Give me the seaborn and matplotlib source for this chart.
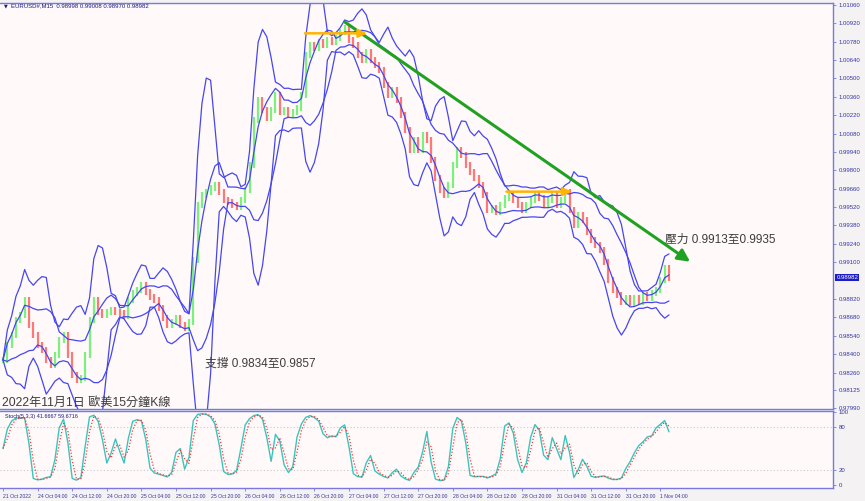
import numpy as np
import pandas as pd
import matplotlib.pyplot as plt
import seaborn as sns

# hourly closes (x unit = one 8-hour label slot)
closes = [
    0.98356, 0.98470, 0.98546, 0.98660, 0.98698, 0.98813, 0.98622, 0.98546,
    0.98470, 0.98432, 0.98356, 0.98317, 0.98394, 0.98508, 0.98546, 0.98394,
    0.98241, 0.98203, 0.98218, 0.98394, 0.98660, 0.98813, 0.98721, 0.98698,
    0.98721, 0.98736, 0.98721, 0.98715, 0.98691, 0.98813, 0.98866, 0.98889,
    0.98927, 0.98874, 0.98836, 0.98813, 0.98752, 0.98676, 0.98622, 0.98645,
    0.98676, 0.98622, 0.98599, 0.98645, 0.99117, 0.99536, 0.99613, 0.99635,
    0.99666, 0.99689, 0.99635, 0.99574, 0.99559, 0.99536, 0.99521, 0.99574,
    0.99651, 0.99841, 1.00184, 1.00336, 1.00260, 1.00199, 1.00260, 1.00374,
    1.00245, 1.00260, 1.00222, 1.00245, 1.00275, 1.00374, 1.00679, 1.00755,
    1.00732, 1.00778, 1.00755, 1.00793, 1.00778, 1.00809, 1.00854, 1.00885,
    1.00793, 1.00755, 1.00679, 1.00641, 1.00702, 1.00641, 1.00603, 1.00565,
    1.00451, 1.00374, 1.00412, 1.00336, 1.00222, 1.00108, 0.99955, 1.00032,
    0.99955, 1.00070, 1.00032, 0.99879, 0.99742, 0.99651, 0.99613, 0.99689,
    0.99841, 0.99955, 0.99917, 0.99841, 0.99788, 0.99742, 0.99689, 0.99613,
    0.99498, 0.99513, 0.99483, 0.99536, 0.99590, 0.99613, 0.99574, 0.99536,
    0.99498, 0.99536, 0.99574, 0.99613, 0.99590, 0.99536, 0.99574, 0.99613,
    0.99536, 0.99574, 0.99635, 0.99498, 0.99384, 0.99460, 0.99422, 0.99331,
    0.99270, 0.99232, 0.99194, 0.99102, 0.98965, 0.98889, 0.98851, 0.98797,
    0.98828, 0.98790, 0.98828, 0.98797, 0.98851, 0.98828, 0.98866, 0.98889,
    0.98965, 0.99056, 0.98982,
]

time_labels = [
    "21 Oct 2022", "24 Oct 04:00", "24 Oct 12:00", "24 Oct 20:00",
    "25 Oct 04:00", "25 Oct 12:00", "25 Oct 20:00", "26 Oct 04:00",
    "26 Oct 12:00", "26 Oct 20:00", "27 Oct 04:00", "27 Oct 12:00",
    "27 Oct 20:00", "28 Oct 04:00", "28 Oct 12:00", "28 Oct 20:00",
    "31 Oct 04:00", "31 Oct 12:00", "31 Oct 20:00", "1 Nov 04:00",
]
price_ticks = [1.01060, 1.00920, 1.00780, 1.00640, 1.00500, 1.00360, 1.00220,
               1.00080, 0.99940, 0.99800, 0.99660, 0.99520, 0.99380, 0.99240,
               0.99100, 0.98820, 0.98680, 0.98540, 0.98400, 0.98260, 0.98125,
               0.97990]
stoch_ticks = [0, 20, 80, 100]

last_price = 0.98982
trend_start = (9.88, 1.00930)
trend_end = (19.86, 0.99104)
top_level = (8.73, 10.52, 1.00844)
mid_level = (14.55, 16.43, 0.99638)

header = "EURUSD#,M15  0.98998 0.99008 0.98970 0.98982"
stoch_header = "Stoch(5,3,3) 41.6667 59.6716"
title_txt = "2022年11月1日 歐美15分鐘K線"
resist_txt = "壓力 0.9913至0.9935"
support_txt = "支撐 0.9834至0.9857"

sns.set_theme(style="white")
plt.rcParams["font.family"] = ["Liberation Sans", "Noto Sans CJK TC", "DejaVu Sans"]

AXC = "#7878E0"
TXC = "#3535A5"
BAND = "#4646F0"

df = pd.DataFrame({"slot": np.arange(len(closes)) / 8, "close": closes})
df["open"] = df["close"].shift(1).fillna(df["close"])
pad = 0.00025
df["high"] = df[["open", "close"]].max(axis=1) + pad
df["low"] = df[["open", "close"]].min(axis=1) - pad

# two bollinger envelopes, as on the terminal
roll = df["close"].rolling(6, min_periods=1)
mid = roll.mean()
sd = roll.std(ddof=0).fillna(0)
df["up2"] = mid + 3.0 * sd
df["dn2"] = mid - 3.0 * sd
roll8 = df["close"].rolling(8, min_periods=1)
sd8 = roll8.std(ddof=0).fillna(0)
df["up1"] = roll8.mean() + 1.2 * sd8
df["dn1"] = roll8.mean() - 1.2 * sd8

# stochastic on the bar ranges
lo = df["low"].rolling(3, min_periods=1).min()
hi = df["high"].rolling(3, min_periods=1).max()
num = (df["close"] - lo).rolling(2, min_periods=1).sum()
den = (hi - lo).rolling(2, min_periods=1).sum()
df["k"] = 100 * num / den
df["d"] = df["k"].rolling(2, min_periods=1).mean()

W, H = 865, 501
fig = plt.figure(figsize=(W / 100, H / 100), dpi=100)
fig.patch.set_facecolor("#F4F2F2")
ax = fig.add_axes([0, (H - 409) / H, 833 / W, 406 / H])
ax2 = fig.add_axes([0, (H - 488) / H, 833 / W, 77 / H])

for a in (ax, ax2):
    a.set_facecolor("#FFFAF9")
    for s in a.spines.values():
        s.set_color(AXC)
        s.set_linewidth(1)
    a.spines["left"].set_visible(False)
    a.yaxis.tick_right()
    a.tick_params(axis="y", colors=AXC, labelcolor=TXC, labelsize=4.3,
                  length=2, width=0.6, pad=2, direction="out")
    a.set_xlim(-0.087, 23.99)

# price bars
up = df["close"] >= df["open"]
for mask, col in ((up, "#6CF06C"), (~up, "#FF6A6A")):
    sub = df[mask]
    ax.vlines(sub["slot"], sub["low"], sub["high"], color=col, linewidth=1.6,
              alpha=0.9)

for col in ("up2", "dn2", "up1", "dn1"):
    sns.lineplot(data=df, x="slot", y=col, ax=ax, color=BAND, linewidth=0.9,
                 legend=False)

ax.set_ylim(0.97982, 1.01075)
ax.set_yticks(price_ticks)
ax.set_yticklabels([f"{v:.5f}" for v in price_ticks])
ax.set_xticks(range(len(time_labels)))
ax.tick_params(axis="x", bottom=False, labelbottom=False)
ax.set_xlabel("")
ax.set_ylabel("")

# trend line and level marks
ax.annotate("", xy=trend_end, xytext=trend_start,
            arrowprops=dict(arrowstyle="-|>,head_length=0.6,head_width=0.3",
                            color="#21A121", lw=2.2, shrinkA=0, shrinkB=0))
for x0, x1, lvl in (top_level, mid_level):
    ax.annotate("", xy=(x1, lvl), xytext=(x0, lvl),
                arrowprops=dict(arrowstyle="-|>,head_length=0.4,head_width=0.2",
                                color="#FFB400", lw=1.8, shrinkA=0, shrinkB=0))

ax.text(19.13, 0.99270, resist_txt, fontsize=8.5, color="#3C3C3C", va="center")
ax.text(5.84, 0.98325, support_txt, fontsize=8.5, color="#3C3C3C", va="center")
ax.text(-0.04, 0.98030, title_txt, fontsize=8.7, color="#3C3C3C", va="center",
        zorder=5)

ax.text(1.004, (last_price - 0.97982) / (1.01075 - 0.97982), f"{last_price:.5f}",
        transform=ax.transAxes, fontsize=4.3, color="white", va="center",
        ha="left", bbox=dict(boxstyle="square,pad=0.15", fc="#1C1CC8", ec="none"))

fig.text(4 / W, 1 - 6 / H, "▼", fontsize=3.5, color="#1A1A80", va="center",
         family=["DejaVu Sans"])
fig.text(11 / W, 1 - 6 / H, header, fontsize=4.3, color="#1A1A80", va="center")

# stochastic panel
ax2.axhline(80, color="#C8C8C8", linestyle=(0, (1, 2)), linewidth=0.8)
ax2.axhline(20, color="#C8C8C8", linestyle=(0, (1, 2)), linewidth=0.8)
sns.lineplot(data=df, x="slot", y="k", ax=ax2, color="#3CC4BC", linewidth=1.0,
             legend=False)
sns.lineplot(data=df, x="slot", y="d", ax=ax2, color="#F03C3C", linewidth=0.9,
             linestyle=(0, (1, 1.5)), legend=False)
ax2.set_ylim(-4.1, 101.4)
ax2.set_yticks(stoch_ticks)
ax2.set_yticklabels([str(v) for v in stoch_ticks])
ax2.set_xticks(range(len(time_labels)))
ax2.set_xticklabels(time_labels, ha="left")
ax2.tick_params(axis="x", colors=AXC, labelcolor=TXC, labelsize=3.7, length=2.5,
                width=0.6, pad=1.5, bottom=True, direction="out")
ax2.set_xlabel("")
ax2.set_ylabel("")
ax2.text(0.006, 0.93, stoch_header, transform=ax2.transAxes, fontsize=4.0,
         color="#1A1A80", va="center")

fig.savefig("out.png", dpi=100, facecolor=fig.get_facecolor())
